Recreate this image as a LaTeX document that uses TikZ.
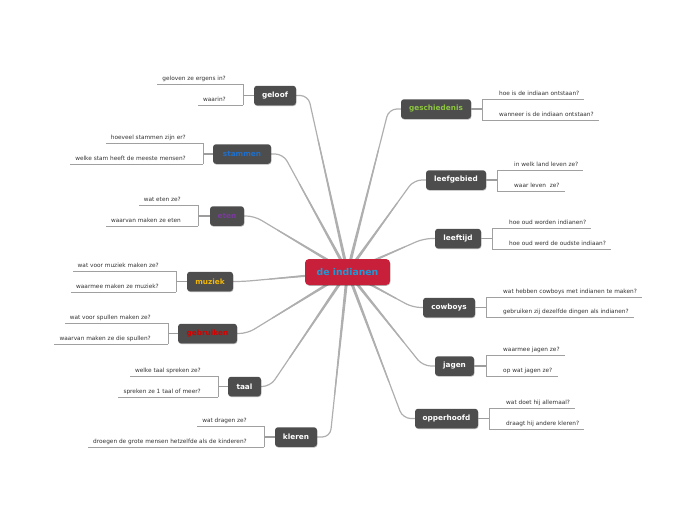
\documentclass[tikz,border=0pt]{standalone}
\usepackage{fontspec}
\setmainfont{DejaVu Sans}
\usetikzlibrary{calc,shadows,backgrounds}
\definecolor{nodegray}{HTML}{4D4D4D}
\definecolor{centerred}{HTML}{C8203A}
\definecolor{centerblue}{HTML}{1E9AD6}
\definecolor{linkc}{HTML}{AFAFAF}
\definecolor{leafc}{HTML}{A0A0A0}
\definecolor{leaftext}{HTML}{333333}
\definecolor{tgreen}{HTML}{8CC63F}
\definecolor{tblue}{HTML}{1F6FCB}
\definecolor{tpurple}{HTML}{7A3A9E}
\definecolor{tgold}{HTML}{F2B705}
\definecolor{tred}{HTML}{D40000}
\tikzset{
  topic/.style={fill=nodegray, rounded corners=3pt, minimum height=19.5pt, inner sep=0pt,
    text=white, font=\fontsize{7.3}{8}\selectfont\bfseries,
    drop shadow={shadow xshift=0.4pt, shadow yshift=-0.8pt, opacity=0.3, fill=black}},
  central/.style={fill=centerred, rounded corners=4pt, minimum height=26pt, minimum width=85pt,
    inner sep=0pt, text=centerblue, font=\fontsize{9.3}{10}\selectfont\bfseries,
    drop shadow={shadow xshift=0.4pt, shadow yshift=-0.8pt, opacity=0.3, fill=black}},
  leaf/.style={inner sep=0pt, text=leaftext, font=\fontsize{5.8}{6.5}\selectfont},
  leafline/.style={draw=leafc, line width=0.7pt},
  stub/.style={draw=linkc!90!black, line width=1.5pt},
  linkline/.style={draw=linkc, line width=1.2pt, rounded corners=8pt},
}
\newcommand\mmlink[3]{%
  \path (#1.#2) ++(#3,0) coordinate (#1-k);
  \coordinate (#1-m) at ($(c.center)!0.75!(#1-k)$);
  \fill[linkc] ($(c.center)!1.6pt!90:(#1-m)$) -- ($(#1-m)!0.6pt!-90:(c.center)$)
     -- ($(#1-m)!0.6pt!90:(c.center)$) -- ($(c.center)!1.6pt!-90:(#1-m)$) -- cycle;
  \draw[linkline] (c.center) -- (#1-k) -- (#1.#2);
}
\newcommand\qleft[6]{%
  \coordinate (#1-t) at (#2,#3);
  \coordinate (#1-u) at (#2,#5);
  \draw[leafline] (#1-t) -- (#1-u);
  \draw[stub] (#1.west) -- (#1.west -| #1-t);
  \node[leaf, anchor=base east] (#1-q1) at ($(#1-t)+(-17,-3.3)$) {#4};
  \node[leaf, anchor=base east] (#1-q2) at ($(#1-u)+(-17,-3.3)$) {#6};
  \path (#1-q1.west) ++(-5,0) coordinate (#1-e1);
  \path (#1-q2.west) ++(-5,0) coordinate (#1-e2);
  \draw[leafline] (#1-t) -- (#1-e1 |- #1-t);
  \draw[leafline] (#1-u) -- (#1-e2 |- #1-u);
}
\newcommand\qright[6]{%
  \coordinate (#1-t) at (#2,#3);
  \coordinate (#1-u) at (#2,#5);
  \draw[leafline] (#1-t) -- (#1-u);
  \draw[stub] (#1.east) -- (#1.east -| #1-t);
  \node[leaf, anchor=base west] (#1-q1) at ($(#1-t)+(17,-3.3)$) {#4};
  \node[leaf, anchor=base west] (#1-q2) at ($(#1-u)+(17,-3.3)$) {#6};
  \path (#1-q1.east) ++(5,0) coordinate (#1-e1);
  \path (#1-q2.east) ++(5,0) coordinate (#1-e2);
  \draw[leafline] (#1-t) -- (#1-e1 |- #1-t);
  \draw[leafline] (#1-u) -- (#1-e2 |- #1-u);
}
\begin{document}
\begin{tikzpicture}[x=1pt,y=-1pt]
\useasboundingbox (0,0) rectangle (697,520);
% central node
\node[central] (c) at (347.5,272) {de indianen};
% left topics
\node[topic, minimum width=42pt] (geloof) at (275,95.5) {geloof};
\node[topic, minimum width=58pt, text=tblue] (stammen) at (242,154) {stammen};
\node[topic, minimum width=34pt, text=tpurple] (eten) at (227,216) {eten};
\node[topic, minimum width=46pt, text=tgold] (muziek) at (210,281.5) {muziek};
\node[topic, minimum width=59pt, text=tred] (gebruiken) at (207.5,333.5) {gebruiken};
\node[topic, minimum width=33pt] (taal) at (244.5,386.5) {taal};
\node[topic, minimum width=42pt] (kleren) at (296,437) {kleren};
% right topics
\node[topic, minimum width=70pt, text=tgreen] (geschiedenis) at (436,109) {geschiedenis};
\node[topic, minimum width=60pt] (leefgebied) at (456,180) {leefgebied};
\node[topic, minimum width=46pt] (leeftijd) at (458,238.5) {leeftijd};
\node[topic, minimum width=52pt] (cowboys) at (449,307.5) {cowboys};
\node[topic, minimum width=39pt] (jagen) at (454.5,366) {jagen};
\node[topic, minimum width=63pt] (opperhoofd) at (446.5,418.5) {opperhoofd};
% links to center
\begin{scope}[on background layer]
\mmlink{geloof}{east}{12}
\mmlink{stammen}{east}{12}
\mmlink{eten}{east}{10}
\mmlink{muziek}{east}{10}
\mmlink{gebruiken}{east}{10}
\mmlink{taal}{east}{9}
\mmlink{kleren}{east}{13}
\mmlink{geschiedenis}{west}{-12}
\mmlink{leefgebied}{west}{-12}
\mmlink{leeftijd}{west}{-11}
\mmlink{cowboys}{west}{-10}
\mmlink{jagen}{west}{-12}
\mmlink{opperhoofd}{west}{-12}
\end{scope}
% questions
\qleft{geloof}{243}{84}{geloven ze ergens in?}{105}{waarin?}
\qleft{stammen}{203}{143}{hoeveel stammen zijn er?}{164}{welke stam heeft de meeste mensen?}
\qleft{eten}{198}{205}{wat eten ze?}{226}{waarvan maken ze eten}
\qleft{muziek}{176}{271}{wat voor muziek maken ze?}{292}{waarmee maken ze muziek?}
\qleft{gebruiken}{168}{323}{wat voor spullen maken ze?}{344}{waarvan maken ze die spullen?}
\qleft{taal}{218}{376}{welke taal spreken ze?}{397}{spreken ze 1 taal of meer?}
\qleft{kleren}{264}{426}{wat dragen ze?}{447}{droegen de grote mensen hetzelfde als de kinderen?}
\qright{geschiedenis}{482}{99}{hoe is de indiaan ontstaan?}{120}{wanneer is de indiaan ontstaan?}
\qright{leefgebied}{497}{170}{in welk land leven ze?}{191}{waar leven\ \ ze?}
\qright{leeftijd}{492}{228}{hoe oud worden indianen?}{249}{hoe oud werd de oudste indiaan?}
\qright{cowboys}{486}{297}{wat hebben cowboys met indianen te maken?}{317}{gebruiken zij dezelfde dingen als indianen?}
\qright{jagen}{486}{355}{waarmee jagen ze?}{376}{op wat jagen ze?}
\qright{opperhoofd}{489}{408}{wat doet hij allemaal?}{429}{draagt hij andere kleren?}
\end{tikzpicture}
\end{document}
